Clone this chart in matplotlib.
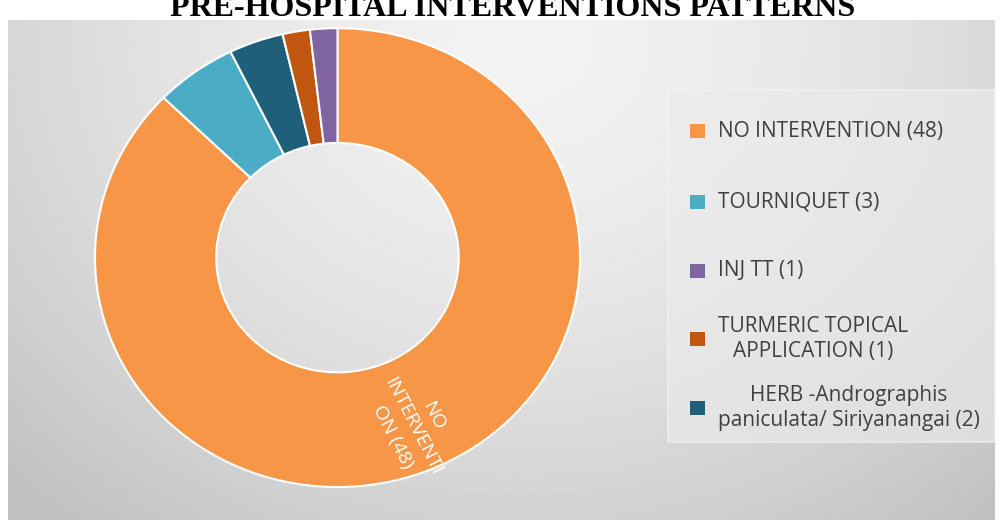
import numpy as np
import matplotlib.pyplot as plt
from matplotlib.patches import Rectangle

labels = ['NO INTERVENTION (48)', 'TOURNIQUET (3)', 'HERB -Andrographis\npaniculata/ Siriyanangai (2)',
          'TURMERIC TOPICAL\nAPPLICATION (1)', 'INJ TT (1)']
values = [48, 3, 2, 1, 1]
colors = ['#F79646', '#4BACC6', '#1F5F7A', '#C0560F', '#8064A2']
legend_order = [0, 1, 4, 3, 2]
slice_label = 'NO\nINTERVENTI\nON (48)'

fig = plt.figure(figsize=(10, 5.22), dpi=100)

# gray gradient panel
bg = fig.add_axes([0.008, 0.004, 0.987, 0.958])
yy, xx = np.mgrid[0:1:300j, 0:1:600j]
d = np.sqrt(((xx - 0.52) / 0.75) ** 2 + ((yy - 0.05) / 1.25) ** 2)
shade = 0.95 - 0.20 * np.clip(d, 0, 1) ** 1.6
bg.imshow(shade, cmap='gray', vmin=0, vmax=1, aspect='auto', extent=[0, 1, 0, 1], origin='upper')
bg.set_axis_off()

fig.text(0.513, 1 - 16 / 522, 'PRE-HOSPITAL INTERVENTIONS PATTERNS', ha='center', va='baseline',
         family='Liberation Serif', weight='bold', fontsize=23, color='black')

# donut
ax = fig.add_axes([0.095, 0.067, 0.485, 0.879])
wedges, _ = ax.pie(values, colors=colors, startangle=90, counterclock=False, radius=1,
                   wedgeprops=dict(width=0.5, edgecolor='white', linewidth=1.5))
ax.set_xlim(-1, 1)
ax.set_ylim(-1, 1)
ax.set_aspect('auto')
ax.set_axis_off()

w = wedges[0]
mid = np.deg2rad((w.theta1 + w.theta2) / 2)
r = 0.80
rot = np.rad2deg(np.arctan2(np.sin(mid) * 229.5, np.cos(mid) * 242.5)) + 3
ax.text(r * np.cos(mid), r * np.sin(mid), slice_label, rotation=rot,
        rotation_mode='anchor', ha='center', va='center', multialignment='center',
        color='white', fontsize=14, family='Open Sans', linespacing=1.35)

# legend panel
fig.patches.append(Rectangle((0.668, 1 - 442 / 522), 0.327, 352 / 522, transform=fig.transFigure,
                             facecolor='#ececec', edgecolor='#f3f3f3', linewidth=1.5, alpha=0.6))
ys = [131, 202, 271, 339, 408]
for k, i in enumerate(legend_order):
    yc = 1 - ys[k] / 522
    fig.patches.append(Rectangle((0.690, yc - 7 / 522), 0.0145, 14 / 522, transform=fig.transFigure,
                                 facecolor=colors[i], edgecolor='none'))
    fig.text(0.718, yc, labels[i], ha='left', va='center', multialignment='center',
             family='Open Sans', fontsize=15, color='#404040', linespacing=1.3)

fig.savefig('out.png', dpi=100)
